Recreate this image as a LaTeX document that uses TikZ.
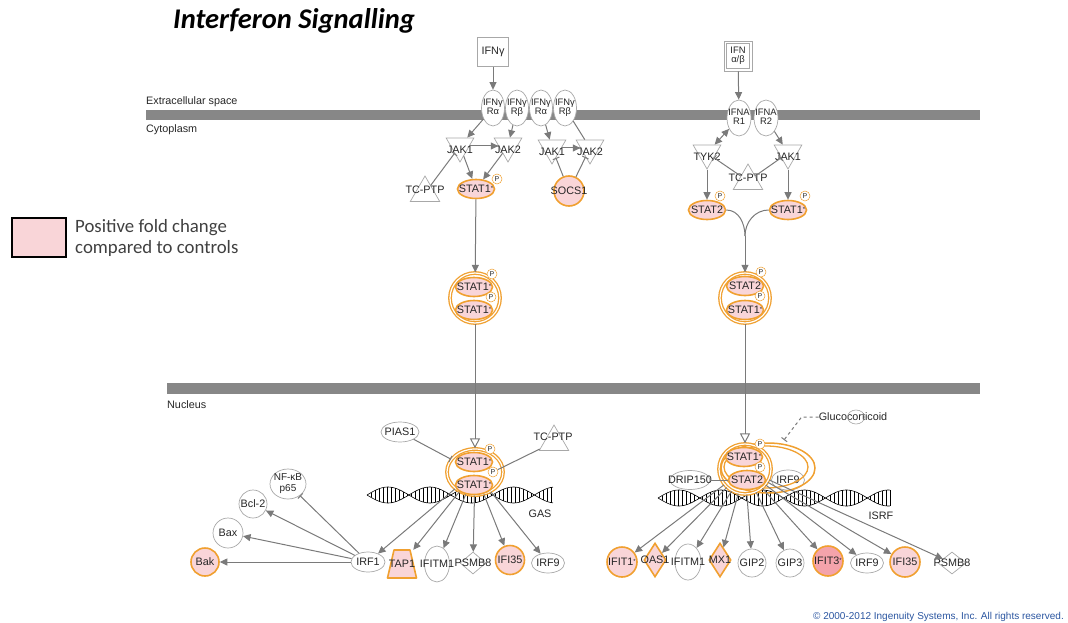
\documentclass[tikz,border=0pt]{standalone}
\usepackage{fontspec}
\setmainfont{Liberation Sans}
\newfontfamily\calib{Carlito}
\usetikzlibrary{shapes.geometric,arrows.meta}
\definecolor{og}{HTML}{F0A030}
\definecolor{pk}{HTML}{F9D5D8}
\definecolor{pkd}{HTML}{F4A3AB}
\definecolor{ln}{HTML}{7A7A7A}
\definecolor{barc}{HTML}{878787}
\definecolor{nd}{HTML}{A8A8A8}
\definecolor{tx}{HTML}{262626}
\definecolor{cpblue}{HTML}{2A55A0}
\newcommand\zw[1]{\makebox[0pt]{#1}}
\newcommand\zt[2]{\makebox[0pt]{\begin{tabular}{@{}c@{}}#1\\#2\end{tabular}}}
\newcommand\st{\raisebox{2pt}{\fontsize{6}{6}\selectfont*}}
\tikzset{
  base/.style={font=\fontsize{10.8}{11.5}\selectfont, text=tx, inner sep=0pt},
  lbl/.style={base},
  mol/.style={base, draw=nd, line width=0.7pt, fill=white},
  ell/.style 2 args={mol, ellipse, minimum width=#1, minimum height=#2},
  rec/.style={mol, ellipse, minimum width=23, minimum height=36, font=\fontsize{9.4}{9.6}\selectfont},
  circ/.style={mol, circle, minimum size=#1},
  dia/.style 2 args={mol, diamond, minimum width=#1, minimum height=#2},
  tridn/.style={mol, regular polygon, regular polygon sides=3, shape border rotate=180, minimum size=#1},
  triup/.style={mol, regular polygon, regular polygon sides=3, minimum size=#1},
  up/.style={fill=pk, draw=og, line width=1.6pt},
  stat/.style={base, ellipse, fill=pk, draw=og, line width=1.6pt, minimum width=37, minimum height=19},
  pb/.style={circle, draw=og, line width=0.5pt, fill=white, minimum size=10, inner sep=0pt, font=\fontsize{7}{7}\selectfont, text=tx},
  dimer/.style={draw=og, line width=1.3pt, double=white, double distance=1.2pt, inner sep=0pt},
  arr/.style={draw=ln, line width=1pt, -{Triangle[length=7.5pt,width=7pt]}},
  con/.style={draw=ln, line width=1pt},
  inh/.style={draw=ln, line width=1pt, -{Bar[width=7pt]}},
  oarr/.style={draw=ln, line width=1pt, -{Triangle[open,length=10pt,width=10pt]}},
  hlx/.style={draw=black, line width=0.6pt},
}
\begin{document}
\begin{tikzpicture}[x=1pt,y=-1pt]
\useasboundingbox (0,0) rectangle (1068,623);
% title
\node[anchor=base west, font=\calib\bfseries\itshape\fontsize{28.5}{31}\selectfont, inner sep=0pt] (title) at (173,29) {Interferon Signalling};
% legend
\node[draw=black, line width=1.5pt, fill=pk, minimum width=54, minimum height=39, inner sep=0pt] (leg) at (39,237.5) {};
\node[anchor=base west, font=\calib\fontsize{18.8}{20}\selectfont, text=black!75, inner sep=0pt] (leg1) at (75,232) {Positive fold change};
\node[anchor=base west, font=\calib\fontsize{18.8}{20}\selectfont, text=black!75, inner sep=0pt] (leg2) at (75,253) {compared to controls};
% membranes
\fill[barc] (146,110) rectangle (980,120);
\fill[barc] (167,383) rectangle (980,394);
\node[lbl, anchor=base west] (ecs) at (146,105) {Extracellular space};
\node[lbl, anchor=base west] (cyt) at (146,133) {Cytoplasm};
\node[lbl, anchor=base west] (nuc) at (167,408) {Nucleus};
% copyright
\node[anchor=base east, text=cpblue, font=\fontsize{10}{11}\selectfont, inner sep=0pt] (cp) at (1064,619) {\textcopyright\ 2000-2012 Ingenuity Systems, Inc. All rights reserved.};

% ===== IFN gamma branch =====
\node[mol, minimum width=31, minimum height=29] (ifng) at (493,52) {IFNγ};
\node[rec] (ra1) at (493,108) {\zt{IFNγ}{Rα}};
\node[rec] (rb1) at (517,108) {\zt{IFNγ}{Rβ}};
\node[rec] (ra2) at (541,108) {\zt{IFNγ}{Rα}};
\node[rec] (rb2) at (565,108) {\zt{IFNγ}{Rβ}};
\node[tridn=32] (jk1a) at (460,146) {};
\node[lbl] at (460,150) {JAK1};
\node[tridn=32] (jk2a) at (508,146) {};
\node[lbl] at (508,150) {JAK2};
\node[tridn=32] (jk1b) at (552,148) {};
\node[lbl] at (552,152) {JAK1};
\node[tridn=32] (jk2b) at (590,148) {};
\node[lbl] at (590,152) {JAK2};
\node[triup=34] (tc1) at (425,193) {};
\node[lbl] at (425,190) {TC-PTP};
\node[stat] (s1c) at (476,189) {\zw{STAT1\st}};
\node[pb] (p1) at (497,179) {P};
\node[circ=30, up] (socs) at (569,191) {\zw{SOCS1}};

\draw[arr] (ifng) -- (ra1);
\draw[arr] (ra1) -- (jk1a);
\draw[arr] (rb1) -- (jk2a);
\draw[arr] (jk1a) -- (jk2a);
\draw[arr] (jk1a) -- (s1c);
\draw[arr] (jk2a) -- (s1c);
\draw[inh] (tc1) -- (jk1a);
\draw[arr] (ra2) -- (jk1b);
\draw[con] (rb2) -- (jk2b);
\draw[arr] (jk1b) -- (jk2b);
\draw[inh] (socs) -- (jk1b);
\draw[inh] (socs) -- (jk2b);

% ===== IFN alpha/beta branch =====
\node[mol, minimum width=28, minimum height=30, font=\fontsize{9.4}{9.6}\selectfont] (ifnab) at (738,56) {\zt{IFN}{α/β}};
\node[draw=nd, line width=0.6pt, minimum width=23, minimum height=25, inner sep=0pt] (ifnabin) at (738,56) {};
\node[rec, minimum width=24] (r1) at (739,118) {\zt{IFNA}{R1}};
\node[rec, minimum width=24] (r2) at (766,118) {\zt{IFNA}{R2}};
\node[tridn=32] (tyk) at (707,153) {};
\node[lbl] at (707,157) {TYK2};
\node[tridn=32] (jk1c) at (788,153) {};
\node[lbl] at (788,157) {JAK1};
\node[triup=34] (tc2) at (748,181) {};
\node[lbl] at (748,178) {TC-PTP};
\node[stat] (s2c) at (707,210) {\zw{STAT2}};
\node[stat] (s1d) at (788,210) {\zw{STAT1\st}};
\node[pb] (p2) at (720,196) {P};
\node[pb] (p3) at (805,196) {P};
\coordinate (mg) at (745,236);

\draw[arr] (ifnab) -- (r1);
\draw[draw=ln, line width=1pt, {Triangle[length=7.5pt,width=7pt]}-{Triangle[length=7.5pt,width=7pt]}] (r1) -- (tyk);
\draw[arr] (r2) -- (jk1c);
\draw[inh] (tc2) -- (tyk);
\draw[inh] (tc2) -- (jk1c);
\draw[arr] (tyk) -- (s2c);
\draw[arr] (jk1c) -- (s1d);
\draw[con] (s2c.east) to[out=0,in=90] (mg);
\draw[con] (s1d.west) to[out=180,in=90] (mg);

% ===== cytoplasmic dimers =====
\node[dimer, circle, minimum size=50] (d1) at (475,298) {};
\node[stat] (d1a) at (474,287) {\zw{STAT1\st}};
\node[stat] (d1b) at (474,310) {\zw{STAT1\st}};
\node[pb] (p4) at (492,274) {P};
\node[pb] (p5) at (491,297) {P};
\node[dimer, circle, minimum size=50] (d2) at (745,298) {};
\node[stat] (d2a) at (745,286) {\zw{STAT2}};
\node[stat] (d2b) at (745,310) {\zw{STAT1\st}};
\node[pb] (p6) at (761,272) {P};
\node[pb] (p7) at (760,296) {P};
\draw[arr] (s1c) -- (d1);
\draw[arr] (mg) -- (d2);

% ===== nucleus left =====
\foreach \t in {367,371,...,553} {\draw[hlx, line width=0.45pt] (\t,{495+8*sin((\t-367)*4.3)}) -- (\t,{495-8*sin((\t-367)*4.3)});}
\draw[hlx] plot[domain=367:553, samples=90, smooth, variable=\t] (\t,{495+8*sin((\t-367)*4.3)});
\draw[hlx] plot[domain=367:553, samples=90, smooth, variable=\t] (\t,{495-8*sin((\t-367)*4.3)});
\node[lbl] (gas) at (540,514) {GAS};

\node[dimer, ellipse, minimum width=56, minimum height=46] (n1) at (475,472) {};
\node[stat] (n1a) at (474,462) {\zw{STAT1\st}};
\node[stat] (n1b) at (474,485) {\zw{STAT1\st}};
\node[pb] (p8) at (490,449) {P};
\node[pb] (p9) at (493,472) {P};
\node[ell={38}{20}] (pias) at (400,432) {\zw{PIAS1}};
\node[triup=34] (tc3) at (554,442) {};
\node[lbl] at (553,437) {TC-PTP};
\draw[oarr] (d1) -- (n1);
\draw[inh] (pias) -- (n1);
\draw[con] (tc3) -- (p9);

% left genes
\filldraw[fill=pk, draw=og, line width=1.6pt, line join=round] (387.5,578) -- (416.5,578) -- (410,550) -- (394,550) -- cycle;
\node[base, minimum width=28, minimum height=28] (tap1) at (402,564) {TAP1};
\node[ell={34}{20}] (irf1) at (368,562) {\zw{IRF1}};
\node[ell={25}{36}] (ifitm1) at (437,564) {\zw{IFITM1}};
\node[dia={26}{22}] (psmb8) at (473,563) {\zw{PSMB8}};
\node[circ=29, up] (ifi35) at (510,560) {\zw{IFI35}};
\node[ell={33}{20}] (irf9) at (548,563) {\zw{IRF9}};
\node[circ=28, up] (bak) at (205,562) {\zw{Bak}};
\node[circ=30] (bax) at (228,533) {\zw{Bax}};
\node[circ=28] (bcl) at (253,504) {\zw{Bcl-2}};
\node[ell={36}{30}, font=\fontsize{10}{10.2}\selectfont] (nfkb) at (288,484) {\zt{NF-κB}{p65}};
\foreach \g in {irf1,tap1,ifitm1,psmb8,ifi35,irf9} {\draw[arr] (n1) -- (\g);}
\draw[arr] (irf1) -- (bak);
\draw[arr] (irf1) -- (bax);
\draw[arr] (irf1) -- (bcl);
\draw[inh] (irf1) -- (nfkb);

% ===== nucleus right =====
\foreach \t in {658,662,...,890} {\draw[hlx, line width=0.45pt] (\t,{498+8*sin((\t-658)*4.3)}) -- (\t,{498-8*sin((\t-658)*4.3)});}
\draw[hlx] plot[domain=658:890, samples=110, smooth, variable=\t] (\t,{498+8*sin((\t-658)*4.3)});
\draw[hlx] plot[domain=658:890, samples=110, smooth, variable=\t] (\t,{498-8*sin((\t-658)*4.3)});
\node[lbl] (isrf) at (881,516) {ISRF};

\node[ell={40}{19}] (drip) at (690,480) {\zw{DRIP150}};
\node[ell={33}{20}] (irf9n) at (788,480) {\zw{IRF9}};
\draw[og, line width=1.5pt] (768,468) ellipse [x radius=47, y radius=25];
\draw[og, line width=1.3pt] (766,467) ellipse [x radius=42, y radius=21];
\node[dimer, ellipse, minimum width=52, minimum height=50] (n2) at (745,469) {};
\node[stat] (n2a) at (744,457) {\zw{STAT1\st}};
\node[stat] (n2b) at (747,480) {\zw{STAT2}};
\node[pb] (p10) at (760,444) {P};
\node[pb] (p11) at (760,467) {P};
\draw[con] (drip) -- (n2b);
\draw[oarr] (d2) -- (n2);
\node[lbl] (gc) at (853,417) {Glucocorticoid};
\node[draw=nd, line width=0.6pt, ellipse, minimum width=17, minimum height=14, inner sep=0pt] (gce) at (856,417) {};
\coordinate (gct) at (784,440);
\draw[inh, dashed] (gc.west) -- ++(-17,0) -- (gct);

% right genes
\node[circ=30, up] (ifit1) at (622,562) {\zw{IFIT1\st}};
\node[dia={22}{34}, up] (oas1) at (655,560) {\zw{OAS1}};
\node[ell={26}{36}] (ifitm1r) at (688,562) {\zw{IFITM1}};
\node[dia={22}{34}, up] (mx1) at (720,560) {\zw{MX1}};
\node[circ=28] (gip2) at (752,563) {\zw{GIP2}};
\node[circ=28] (gip3) at (790,563) {\zw{GIP3}};
\node[circ=30, up, fill=pkd] (ifit3) at (828,561) {\zw{IFIT3\st}};
\node[ell={33}{20}] (irf9r) at (867,563) {\zw{IRF9}};
\node[circ=30, up] (ifi35r) at (905,562) {\zw{IFI35}};
\node[dia={28}{22}] (psmb8r) at (952,563) {\zw{PSMB8}};
\foreach \g in {ifit1,oas1,ifitm1r,mx1,gip2,gip3,ifit3,irf9r,ifi35r,psmb8r} {\draw[arr] (n2) -- (\g);}
\end{tikzpicture}
\end{document}
